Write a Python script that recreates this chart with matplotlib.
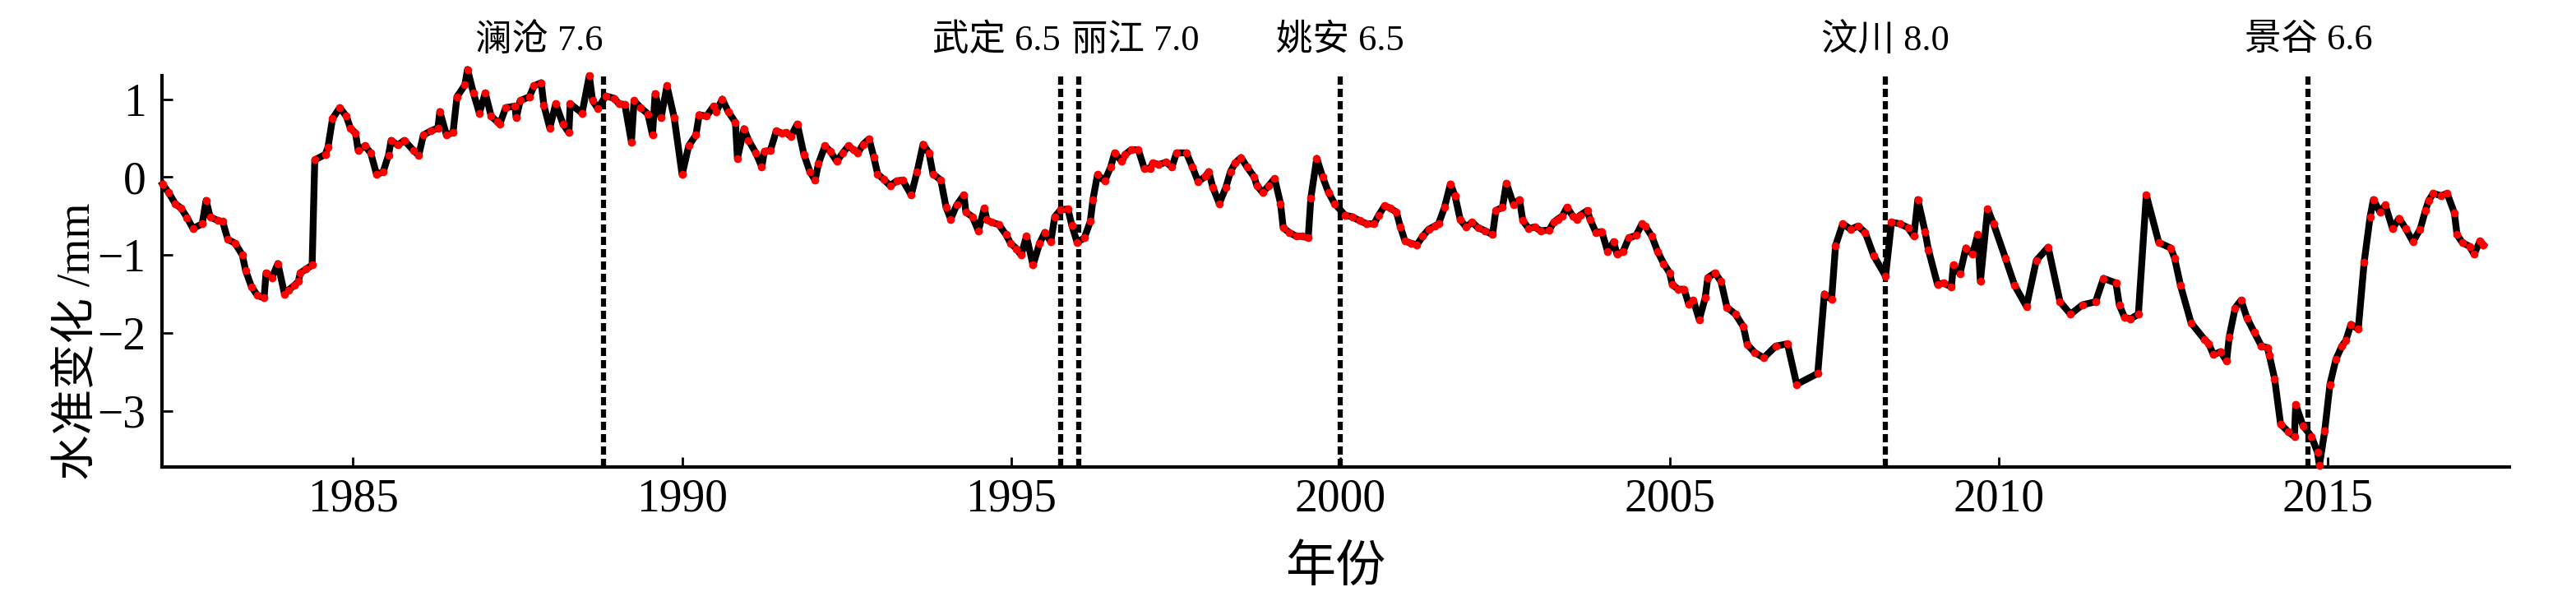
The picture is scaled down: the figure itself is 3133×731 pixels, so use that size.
import matplotlib
matplotlib.use("Agg")
import matplotlib.pyplot as plt
import matplotlib.transforms as mtransforms

# levelling change (mm), by decimal year
years = [
    1982.11, 1982.20, 1982.30, 1982.39, 1982.48, 1982.57, 1982.71, 1982.77, 1982.83, 1982.95,
    1983.02, 1983.10, 1983.21, 1983.32, 1983.37, 1983.46, 1983.55, 1983.65, 1983.68, 1983.77,
    1983.86, 1983.96, 1984.02, 1984.11, 1984.17, 1984.20, 1984.29, 1984.38, 1984.42, 1984.58,
    1984.62, 1984.69, 1984.80, 1984.90, 1984.96, 1985.04, 1985.08, 1985.18, 1985.27, 1985.36,
    1985.46, 1985.54, 1985.58, 1985.68, 1985.78, 1985.92, 1986.00, 1986.07, 1986.18, 1986.29,
    1986.32, 1986.42, 1986.52, 1986.58, 1986.70, 1986.74, 1986.83, 1986.92, 1987.01, 1987.10,
    1987.19, 1987.23, 1987.32, 1987.46, 1987.48, 1987.54, 1987.68, 1987.75, 1987.86, 1987.90,
    1987.99, 1988.08, 1988.19, 1988.28, 1988.30, 1988.48, 1988.59, 1988.64, 1988.72, 1988.84,
    1988.97, 1989.04, 1989.13, 1989.23, 1989.27, 1989.37, 1989.48, 1989.55, 1989.59, 1989.68,
    1989.77, 1989.88, 1990.00, 1990.10, 1990.21, 1990.26, 1990.37, 1990.48, 1990.52, 1990.61,
    1990.70, 1990.81, 1990.84, 1990.94, 1991.01, 1991.12, 1991.21, 1991.25, 1991.34, 1991.43,
    1991.52, 1991.58, 1991.65, 1991.75, 1991.85, 1991.94, 1992.02, 1992.07, 1992.17, 1992.25,
    1992.35, 1992.44, 1992.53, 1992.60, 1992.67, 1992.75, 1992.84, 1992.91, 1992.97, 1993.06,
    1993.16, 1993.26, 1993.35, 1993.48, 1993.57, 1993.66, 1993.75, 1993.81, 1993.93, 1994.01,
    1994.08, 1994.17, 1994.28, 1994.31, 1994.41, 1994.50, 1994.59, 1994.63, 1994.70, 1994.81,
    1994.92, 1994.99, 1995.08, 1995.15, 1995.23, 1995.33, 1995.43, 1995.51, 1995.60, 1995.66,
    1995.75, 1995.86, 1995.92, 1996.00, 1996.11, 1996.20, 1996.24, 1996.31, 1996.42, 1996.51,
    1996.57, 1996.68, 1996.73, 1996.82, 1996.93, 1997.02, 1997.11, 1997.15, 1997.24, 1997.35,
    1997.44, 1997.51, 1997.66, 1997.75, 1997.84, 1997.95, 1998.00, 1998.06, 1998.16, 1998.26,
    1998.33, 1998.40, 1998.49, 1998.58, 1998.69, 1998.73, 1998.82, 1998.91, 1999.00, 1999.09,
    1999.13, 1999.22, 1999.33, 1999.42, 1999.51, 1999.55, 1999.64, 1999.73, 1999.82, 1999.91,
    2000.07, 2000.18, 2000.29, 2000.40, 2000.51, 2000.58, 2000.67, 2000.76, 2000.85, 2000.91,
    2000.98, 2001.07, 2001.16, 2001.25, 2001.34, 2001.43, 2001.49, 2001.58, 2001.67, 2001.74,
    2001.82, 2001.91, 2002.00, 2002.09, 2002.20, 2002.31, 2002.36, 2002.46, 2002.52, 2002.63,
    2002.72, 2002.77, 2002.86, 2002.95, 2003.04, 2003.17, 2003.24, 2003.30, 2003.37, 2003.44,
    2003.53, 2003.59, 2003.64, 2003.75, 2003.79, 2003.88, 2003.97, 2004.06, 2004.15, 2004.20,
    2004.29, 2004.38, 2004.49, 2004.58, 2004.63, 2004.73, 2004.82, 2004.91, 2005.00, 2005.04,
    2005.13, 2005.22, 2005.29, 2005.36, 2005.45, 2005.54, 2005.58, 2005.69, 2005.78, 2005.87,
    2006.00, 2006.12, 2006.18, 2006.29, 2006.43, 2006.61, 2006.79, 2006.93, 2007.25, 2007.35,
    2007.46, 2007.52, 2007.63, 2007.75, 2007.86, 2007.97, 2008.10, 2008.28, 2008.37, 2008.50,
    2008.62, 2008.71, 2008.77, 2008.88, 2008.93, 2009.07, 2009.16, 2009.28, 2009.31, 2009.41,
    2009.50, 2009.60, 2009.68, 2009.72, 2009.83, 2009.92, 2010.10, 2010.24, 2010.42, 2010.57,
    2010.75, 2010.93, 2011.09, 2011.27, 2011.47, 2011.59, 2011.78, 2011.83, 2011.91, 2012.00,
    2012.12, 2012.24, 2012.43, 2012.61, 2012.67, 2012.76, 2012.92, 2013.12, 2013.19, 2013.26,
    2013.37, 2013.46, 2013.50, 2013.59, 2013.68, 2013.77, 2013.88, 2013.99, 2014.08, 2014.11,
    2014.19, 2014.28, 2014.40, 2014.49, 2014.51, 2014.62, 2014.75, 2014.84, 2014.87, 2014.95,
    2015.03, 2015.12, 2015.21, 2015.27, 2015.35, 2015.46, 2015.55, 2015.64, 2015.69, 2015.79,
    2015.87, 2015.98, 2016.08, 2016.18, 2016.29, 2016.40, 2016.48, 2016.53, 2016.60, 2016.72,
    2016.81, 2016.92, 2016.96, 2017.04, 2017.15, 2017.22, 2017.31, 2017.36,
]
change_mm = [
    -0.09, -0.20, -0.34, -0.40, -0.52, -0.66, -0.60, -0.30, -0.51, -0.56,
    -0.57, -0.80, -0.85, -1.00, -1.20, -1.41, -1.52, -1.55, -1.23, -1.29,
    -1.11, -1.50, -1.45, -1.39, -1.34, -1.23, -1.18, -1.13, 0.22, 0.29,
    0.38, 0.75, 0.89, 0.78, 0.63, 0.56, 0.34, 0.40, 0.31, 0.03,
    0.07, 0.28, 0.47, 0.41, 0.47, 0.34, 0.28, 0.54, 0.59, 0.63,
    0.84, 0.54, 0.57, 1.03, 1.18, 1.38, 1.08, 0.82, 1.08, 0.78,
    0.71, 0.68, 0.89, 0.91, 0.76, 0.98, 1.03, 1.17, 1.21, 0.92,
    0.63, 0.94, 0.68, 0.57, 0.94, 0.82, 1.30, 0.98, 0.88, 1.04,
    1.01, 0.94, 0.93, 0.45, 0.98, 0.89, 0.81, 0.54, 1.07, 0.76,
    1.17, 0.76, 0.03, 0.40, 0.54, 0.80, 0.78, 0.91, 0.84, 1.00,
    0.84, 0.70, 0.24, 0.62, 0.47, 0.31, 0.13, 0.33, 0.34, 0.59,
    0.56, 0.57, 0.52, 0.68, 0.29, 0.07, -0.04, 0.17, 0.40, 0.33,
    0.20, 0.31, 0.40, 0.35, 0.31, 0.42, 0.49, 0.26, 0.04, -0.03,
    -0.11, -0.05, -0.04, -0.23, 0.07, 0.42, 0.31, 0.04, -0.04, -0.39,
    -0.54, -0.36, -0.23, -0.45, -0.51, -0.69, -0.40, -0.55, -0.58, -0.61,
    -0.74, -0.85, -0.92, -1.00, -0.76, -1.13, -0.85, -0.71, -0.83, -0.51,
    -0.42, -0.41, -0.62, -0.84, -0.78, -0.57, -0.29, 0.03, -0.05, 0.13,
    0.31, 0.20, 0.29, 0.35, 0.35, 0.11, 0.11, 0.18, 0.16, 0.19,
    0.13, 0.31, 0.31, 0.13, -0.06, 0.01, 0.07, -0.13, -0.34, -0.13,
    0.07, 0.18, 0.25, 0.13, 0.00, -0.11, -0.20, -0.11, -0.02, -0.34,
    -0.65, -0.71, -0.76, -0.76, -0.78, -0.27, 0.24, 0.00, -0.20, -0.34,
    -0.49, -0.51, -0.56, -0.60, -0.60, -0.49, -0.37, -0.40, -0.45, -0.64,
    -0.82, -0.85, -0.87, -0.76, -0.67, -0.63, -0.60, -0.39, -0.09, -0.24,
    -0.55, -0.64, -0.58, -0.65, -0.69, -0.74, -0.43, -0.39, -0.08, -0.35,
    -0.29, -0.56, -0.66, -0.64, -0.69, -0.68, -0.58, -0.54, -0.50, -0.39,
    -0.50, -0.54, -0.49, -0.43, -0.54, -0.71, -0.70, -0.96, -0.83, -0.99,
    -0.96, -0.78, -0.75, -0.60, -0.63, -0.76, -0.96, -1.11, -1.23, -1.38,
    -1.44, -1.44, -1.63, -1.58, -1.83, -1.55, -1.29, -1.23, -1.34, -1.67,
    -1.76, -1.92, -2.15, -2.25, -2.32, -2.17, -2.14, -2.66, -2.52, -1.50,
    -1.57, -0.88, -0.60, -0.67, -0.63, -0.71, -1.01, -1.27, -0.58, -0.60,
    -0.65, -0.76, -0.29, -0.70, -0.93, -1.38, -1.36, -1.41, -1.13, -1.24,
    -0.91, -0.99, -0.74, -1.34, -0.41, -0.60, -1.04, -1.39, -1.66, -1.07,
    -0.90, -1.60, -1.76, -1.64, -1.60, -1.30, -1.36, -1.64, -1.80, -1.82,
    -1.76, -0.23, -0.84, -0.91, -1.04, -1.39, -1.87, -2.08, -2.14, -2.28,
    -2.24, -2.36, -2.05, -1.68, -1.58, -1.81, -1.99, -2.17, -2.19, -2.29,
    -2.59, -3.17, -3.27, -3.33, -2.92, -3.19, -3.33, -3.53, -3.70, -3.26,
    -2.66, -2.34, -2.17, -2.10, -1.89, -1.95, -1.09, -0.51, -0.29, -0.45,
    -0.36, -0.66, -0.53, -0.66, -0.83, -0.67, -0.43, -0.30, -0.21, -0.24,
    -0.21, -0.46, -0.74, -0.84, -0.89, -0.99, -0.82, -0.87,
]

# earthquakes marked on the chart
quake_names = ["澜沧 7.6", "武定 6.5", "丽江 7.0", "姚安 6.5", "汶川 8.0", "景谷 6.6"]
quake_years = [1988.80, 1995.75, 1996.03, 2000.00, 2008.28, 2014.70]
quake_align = ["right", "right", "left", "center", "center", "center"]

xticks = [1985, 1990, 1995, 2000, 2005, 2010, 2015]
yticks = [-3, -2, -1, 0, 1]

SERIF = "Liberation Serif"
MIXED = [SERIF, "Noto Sans CJK SC"]


def main():
    fig = plt.figure(figsize=(31.33, 7.31), dpi=100)
    ax = fig.add_axes([0.0629, 0.223, 0.9111, 0.651])

    for yr in quake_years:
        ax.axvline(yr, color="black", lw=4.5, linestyle=(0, (1.6, 0.8)), zorder=1)

    ax.plot(years, change_mm, color="black", lw=6, zorder=2, clip_on=False)
    ax.plot(years, change_mm, "o", color="red", ms=7, mec="none", zorder=3, clip_on=False)

    trans = mtransforms.blended_transform_factory(ax.transData, ax.transAxes)
    for name, yr, ha in zip(quake_names, quake_years, quake_align):
        x = yr - 0.12 if ha == "left" else yr
        ax.text(x, 1.09, name, transform=trans, ha=ha, va="center",
                fontsize=32, family=MIXED)

    ax.set_xlim(1982.1, 2017.75)
    ax.set_ylim(-3.72, 1.3)
    ax.set_xticks(xticks)
    ax.set_yticks(yticks)
    ax.set_xticklabels([str(t) for t in xticks], family=SERIF, fontsize=40)
    ax.set_yticklabels([str(t).replace("-", "\u2212") for t in yticks], family=SERIF, fontsize=40)

    for side in ["top", "right"]:
        ax.spines[side].set_visible(False)
    for side in ["left", "bottom"]:
        ax.spines[side].set_linewidth(3)
    ax.tick_params(axis="both", direction="in", length=9, width=2)
    ax.tick_params(axis="x", pad=10)
    ax.tick_params(axis="y", pad=14)

    ax.set_xlabel("年份", family=MIXED, fontsize=44)
    ax.xaxis.set_label_coords(0.5, -0.2)
    ax.set_ylabel("水准变化 /mm", family=MIXED, fontsize=40)
    ax.yaxis.set_label_coords(-0.027, 0.32)

    fig.savefig("out.png", dpi=100)
    plt.close(fig)


if __name__ == "__main__":
    main()
